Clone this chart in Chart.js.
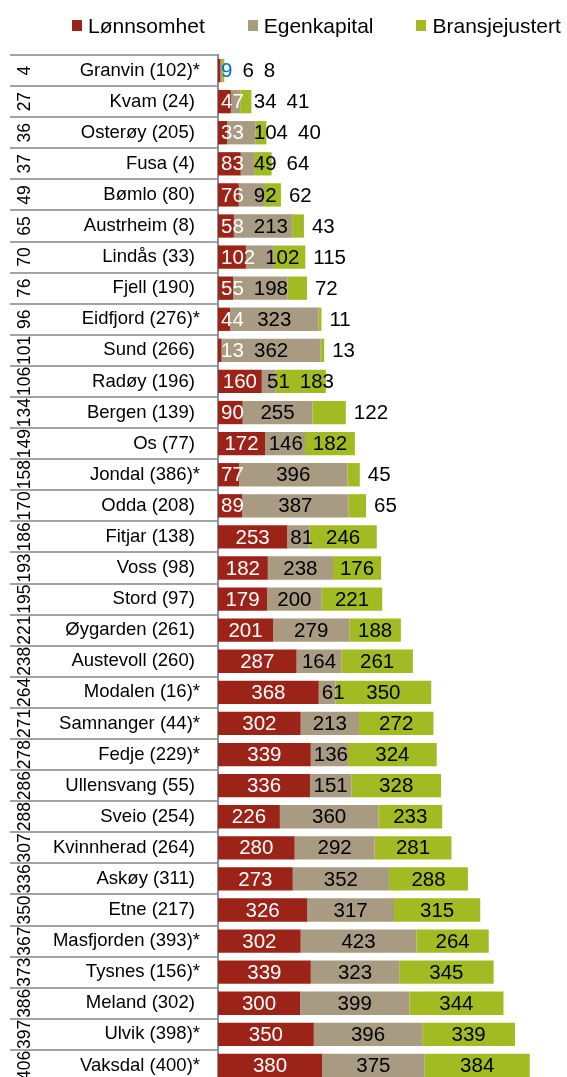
<!DOCTYPE html>
<html lang="no">
<head>
<meta charset="utf-8">
<title>Rangering av kommunar</title>
<script src="https://cdn.jsdelivr.net/npm/chart.js@4.4.1/dist/chart.umd.min.js"></script>
<style>
  html, body { margin: 0; padding: 0; background: #fff; overflow: hidden; }
  body { width: 567px; height: 1077px; position: relative; font-family: 'Liberation Sans', Arial, sans-serif; }
  #legend { position: absolute; top: 14px; left: 72px; display: flex; gap: 43px; font-size: 21px; line-height: 23px; color: #000; z-index: 2; white-space: nowrap; }
  #legend .item { display: flex; align-items: center; }
  #legend .box { width: 10px; height: 11px; margin-right: 6px; }
  #wrap { position: absolute; top: 0; left: 0; width: 567px; height: 1081px; }
</style>
</head>
<body>
<div id="legend"></div>
<div id="wrap"><canvas id="ranking-chart"></canvas></div>
<script>
const FONT = "'Liberation Sans', Arial, sans-serif";

// Kommune (rank in brackets), sorted by total rank
const kommuner = [
  'Granvin (102)*', 'Kvam (24)', 'Osterøy (205)', 'Fusa (4)', 'Bømlo (80)', 'Austrheim (8)',
  'Lindås (33)', 'Fjell (190)', 'Eidfjord (276)*', 'Sund (266)', 'Radøy (196)', 'Bergen (139)',
  'Os (77)', 'Jondal (386)*', 'Odda (208)', 'Fitjar (138)', 'Voss (98)', 'Stord (97)',
  'Øygarden (261)', 'Austevoll (260)', 'Modalen (16)*', 'Samnanger (44)*', 'Fedje (229)*',
  'Ullensvang (55)', 'Sveio (254)', 'Kvinnherad (264)', 'Askøy (311)', 'Etne (217)',
  'Masfjorden (393)*', 'Tysnes (156)*', 'Meland (302)', 'Ulvik (398)*', 'Vaksdal (400)*'
];
const totalRank = [4, 27, 36, 37, 49, 65, 70, 76, 96, 101, 106, 134, 149, 158, 170, 186, 193,
  195, 221, 238, 264, 271, 278, 286, 288, 307, 336, 350, 367, 373, 386, 397, 406];

const lonnsomhet = [9, 47, 33, 83, 76, 58, 102, 55, 44, 13, 160, 90, 172, 77, 89, 253, 182,
  179, 201, 287, 368, 302, 339, 336, 226, 280, 273, 326, 302, 339, 300, 350, 380];
const egenkapital = [6, 34, 104, 49, 92, 213, 102, 198, 323, 362, 51, 255, 146, 396, 387, 81, 238,
  200, 279, 164, 61, 213, 136, 151, 360, 292, 352, 317, 423, 323, 399, 396, 375];
const bransjejustert = [8, 41, 40, 64, 62, 43, 115, 72, 11, 13, 183, 122, 182, 45, 65, 246, 176,
  221, 188, 261, 350, 272, 324, 328, 233, 281, 288, 315, 264, 345, 344, 339, 384];

const seriesColors = ['#9c2317', '#a89b82', '#a2bb22'];
const labelColors = ['#ffffff', '#000000', '#000000'];

// value labels on each segment; pushed right when they would collide
const segmentLabels = {
  id: 'segmentLabels',
  afterDatasetsDraw(chart) {
    const { ctx } = chart;
    const metas = chart.data.datasets.map((_, i) => chart.getDatasetMeta(i));
    ctx.save();
    ctx.font = '20.5px ' + FONT;
    ctx.textBaseline = 'middle';
    ctx.textAlign = 'left';
    chart.data.labels.forEach((_, row) => {
      let prevRight = -Infinity;
      metas.forEach((meta, ds) => {
        const bar = meta.data[row];
        const text = String(chart.data.datasets[ds].data[row]);
        const w = ctx.measureText(text).width;
        const start = Math.min(bar.base, bar.x);
        const end = Math.max(bar.base, bar.x);
        const last = ds === metas.length - 1;
        let left;
        if (w + 4 <= end - start) left = (start + end) / 2 - w / 2;
        else left = last ? end + 8 : start + 3;
        left = Math.max(left, prevRight + 10);
        let color = labelColors[ds];
        if (left >= end && color === '#ffffff') color = '#0070c0';
        ctx.fillStyle = color;
        ctx.fillText(text, left, bar.y + 1);
        prevRight = left + w;
      });
    });
    ctx.restore();
  }
};

// rotated total rank at the far left of each row
const rankColumn = {
  id: 'rankColumn',
  afterDraw(chart) {
    const { ctx } = chart;
    const yScale = chart.scales.y;
    ctx.save();
    ctx.font = '17.5px ' + FONT;
    ctx.fillStyle = '#000';
    ctx.textAlign = 'center';
    ctx.textBaseline = 'alphabetic';
    totalRank.forEach((rank, i) => {
      ctx.save();
      ctx.translate(30, yScale.getPixelForValue(i));
      ctx.rotate(-Math.PI / 2);
      ctx.fillText(String(rank), 0, 0);
      ctx.restore();
    });
    ctx.restore();
  }
};

const ctx = document.getElementById('ranking-chart').getContext('2d');
const chart = new Chart(ctx, {
  type: 'bar',
  data: {
    labels: kommuner,
    datasets: [
      { label: 'Lønnsomhet', data: lonnsomhet, backgroundColor: seriesColors[0] },
      { label: 'Egenkapital', data: egenkapital, backgroundColor: seriesColors[1] },
      { label: 'Bransjejustert', data: bransjejustert, backgroundColor: seriesColors[2] }
    ]
  },
  options: {
    indexAxis: 'y',
    responsive: true,
    maintainAspectRatio: false,
    animation: false,
    datasets: {
      bar: { categoryPercentage: 1, barPercentage: 0.75, borderWidth: 0 }
    },
    layout: { padding: { top: 55, left: 20, right: 0, bottom: 0 } },
    plugins: {
      legend: { display: false },
      tooltip: { enabled: false }
    },
    scales: {
      x: { stacked: true, min: 0, max: 1275, display: false },
      y: {
        stacked: true,
        offset: true,
        grid: {
          offset: true,
          drawOnChartArea: false,
          drawTicks: true,
          tickLength: 208,
          color: '#a3a3a3',
          lineWidth: 2
        },
        border: { display: true, color: '#8f8f8f', width: 2 },
        ticks: {
          autoSkip: false,
          padding: -190,
          color: '#000',
          font: { family: FONT, size: 18.5 },
          callback(value) {
            const name = this.getLabelForValue(value);
            return name.endsWith('*') ? name : name + ' ';
          }
        },
        afterFit(scale) { scale.width = 198; }
      }
    }
  },
  plugins: [segmentLabels, rankColumn]
});

// legend above the table, built from the datasets
const legendEl = document.getElementById('legend');
chart.data.datasets.forEach(ds => {
  const item = document.createElement('div');
  item.className = 'item';
  const box = document.createElement('span');
  box.className = 'box';
  box.style.background = ds.backgroundColor;
  item.appendChild(box);
  item.appendChild(document.createTextNode(ds.label));
  legendEl.appendChild(item);
});
</script>
</body>
</html>
